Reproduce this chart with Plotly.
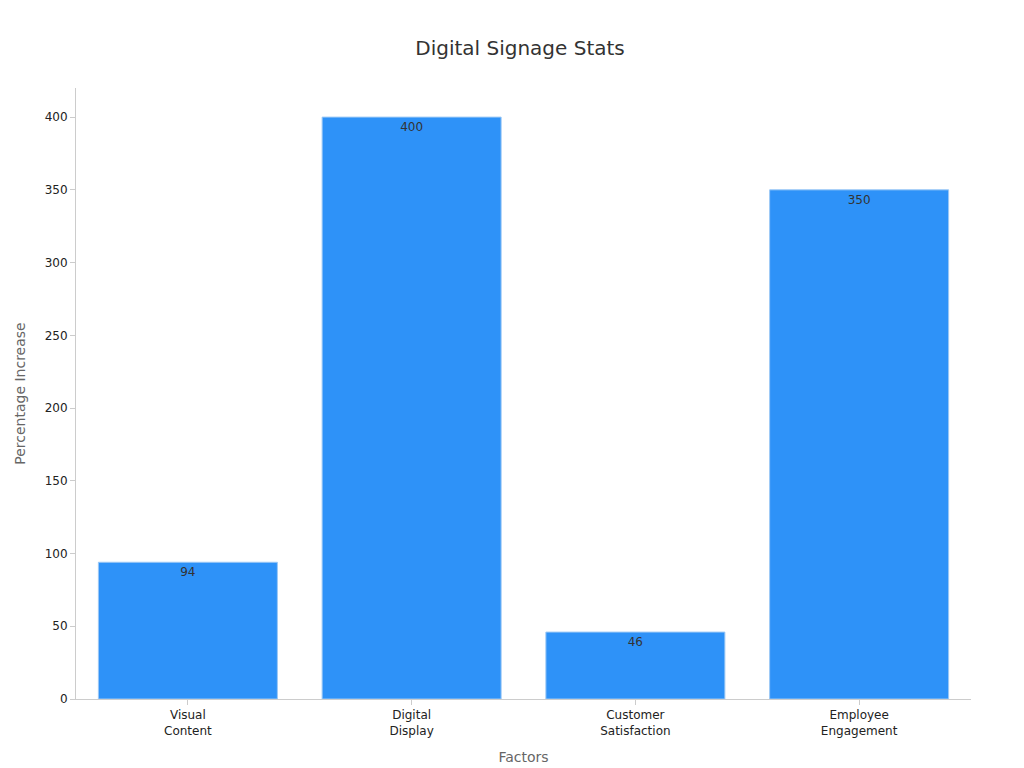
import plotly.graph_objects as go

factors = ["Visual<br>Content", "Digital<br>Display", "Customer<br>Satisfaction", "Employee<br>Engagement"]
increase = [94, 400, 46, 350]

fig = go.Figure(go.Bar(
    x=factors,
    y=increase,
    text=increase,
    textposition="inside",
    insidetextanchor="end",
    textfont=dict(color="#333333", size=12),
    marker=dict(color="#2e92f8", line=dict(color="#9cc8f5", width=1)),
    width=0.8,
))

fig.update_layout(
    width=1024, height=768,
    title=dict(text="Digital Signage Stats", x=0.5, y=0.957, xanchor="center",
               font=dict(size=20, color="#333333")),
    font=dict(family="DejaVu Sans", size=12, color="#222222"),
    plot_bgcolor="white", paper_bgcolor="white",
    margin=dict(l=68, r=61, t=80, b=77),
    showlegend=False,
    xaxis=dict(title=dict(text="Factors", font=dict(size=14, color="#666666")),
               showline=True, linecolor="#cccccc", ticks="outside",
               tickcolor="#cccccc", ticklen=5),
    yaxis=dict(title=dict(text="Percentage Increase", font=dict(size=14, color="#666666")),
               range=[0, 420], dtick=50, showgrid=False, zeroline=False,
               showline=True, linecolor="#cccccc", ticks="outside",
               tickcolor="#cccccc", ticklen=5),
)

fig.write_html("out.html")
